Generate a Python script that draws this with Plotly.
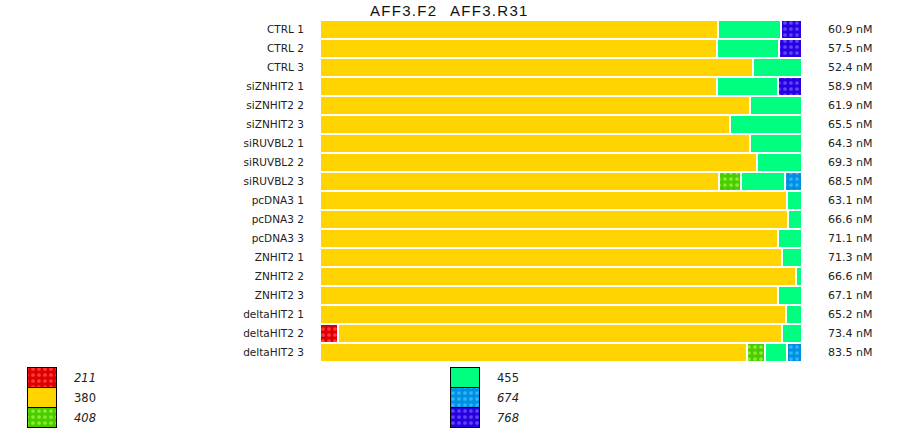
import plotly.graph_objects as go

categories = ["CTRL 1", "CTRL 2", "CTRL 3", "siZNHIT2 1", "siZNHIT2 2", "siZNHIT2 3",
              "siRUVBL2 1", "siRUVBL2 2", "siRUVBL2 3", "pcDNA3 1", "pcDNA3 2", "pcDNA3 3",
              "ZNHIT2 1", "ZNHIT2 2", "ZNHIT2 3", "deltaHIT2 1", "deltaHIT2 2", "deltaHIT2 3"]
concentrations = ["60.9 nM", "57.5 nM", "52.4 nM", "58.9 nM", "61.9 nM", "65.5 nM",
                  "64.3 nM", "69.3 nM", "68.5 nM", "63.1 nM", "66.6 nM", "71.1 nM",
                  "71.3 nM", "66.6 nM", "67.1 nM", "65.2 nM", "73.4 nM", "83.5 nM"]

# percentage of each peak per sample
s211 = [None, None, None, None, None, None, None, None, None, None, None, None,
        None, None, None, None, 3.7, None]
s380 = [82.5, 82.3, 89.8, 82.3, 89.2, 85.0, 89.2, 90.6, 82.8, 96.9, 97.1, 95.0,
        95.8, 98.8, 95.0, 96.7, 92.1, 88.6]
s408 = [None, None, None, None, None, None, None, None, 4.5, None, None, None,
        None, None, None, None, None, 3.8]
s455 = [13.1, 12.9, 10.2, 12.7, 10.8, 15.0, 10.8, 9.4, 9.1, 3.1, 2.9, 5.0,
        4.2, 1.2, 5.0, 3.3, 4.2, 4.5]
s674 = [None, None, None, None, None, None, None, None, 3.5, None, None, None,
        None, None, None, None, None, 3.1]
s768 = [4.4, 4.8, None, 5.0, None, None, None, None, None, None, None, None,
        None, None, None, None, None, None]

series_names = ["211", "380", "408", "455", "674", "768"]
series_values = [s211, s380, s408, s455, s674, s768]
bg_colors = ["#DD0000", "#FFD400", "#4CCC00", "#00FF80", "#0090E0", "#2A00E0"]
fg_colors = ["#FF3A3A", None, "#86F030", None, "#30B4FF", "#5A48FF"]
italic = [True, False, True, False, True, True]

fig = go.Figure()

for name, vals, bg, fg in zip(series_names, series_values, bg_colors, fg_colors):
    marker = dict(color=bg, line=dict(color="white", width=2))
    if fg:
        marker["pattern"] = dict(shape=".", fgcolor=fg, bgcolor=bg, size=6,
                                 solidity=0.3, fillmode="replace")
    fig.add_trace(go.Bar(y=categories, x=vals, orientation="h", name=name,
                         marker=marker, showlegend=False, hoverinfo="x+y+name"))

# custom legend (swatches as bars on an overlay axis in pixel units)
for i, (name, bg, fg, it) in enumerate(zip(series_names, bg_colors, fg_colors, italic)):
    col, row = divmod(i, 3)
    x0 = 28 + col * 423
    y0 = 368 + row * 20
    marker = dict(color=bg, line=dict(color="black", width=1.5))
    if fg:
        marker["pattern"] = dict(shape=".", fgcolor=fg, bgcolor=bg, size=6,
                                 solidity=0.3, fillmode="replace")
    fig.add_trace(go.Bar(x=[x0 + 14.5], y=[19.5], base=[y0], width=[29],
                         marker=marker, xaxis="x2", yaxis="y2",
                         showlegend=False, hoverinfo="skip"))
    label = f"<i>{name}</i>" if it else name
    fig.add_annotation(x=(x0 + 44) / 900, y=1 - (y0 + 10) / 432,
                       xref="paper", yref="paper", text=label, showarrow=False,
                       xanchor="left", yanchor="middle",
                       font=dict(family="DejaVu Sans", size=11.5, color="#222"))

# concentration labels
for cat, conc in zip(categories, concentrations):
    fig.add_annotation(x=100, y=cat, xref="x", yref="y", text=conc, showarrow=False,
                       xanchor="left", xshift=24,
                       font=dict(family="DejaVu Sans", size=11, color="#222"))

# title
fig.add_annotation(x=449.5 / 900, y=1 - 11 / 432, xref="paper", yref="paper",
                   text='<span style="letter-spacing:1.3px">AFF3.F2</span>&nbsp;&nbsp;&nbsp;<span style="letter-spacing:1.3px">AFF3.R31</span>',
                   showarrow=False, xanchor="center", yanchor="middle",
                   font=dict(family="Liberation Sans", size=15, color="#111"))

fig.update_layout(
    width=900, height=432,
    margin=dict(l=0, r=0, t=0, b=0),
    paper_bgcolor="white", plot_bgcolor="rgba(0,0,0,0)",
    barmode="stack", bargap=0,
    xaxis=dict(domain=[320 / 900, 802 / 900], range=[0, 100], visible=False, fixedrange=True),
    yaxis=dict(domain=[(432 - 362) / 432, (432 - 20) / 432], autorange="reversed",
               type="category", showgrid=False, zeroline=False, showline=False,
               ticks="outside", ticklen=13, tickcolor="rgba(0,0,0,0)",
               tickfont=dict(family="DejaVu Sans", size=10.5, color="#222")),
    xaxis2=dict(domain=[0, 1], range=[0, 900], visible=False, anchor="y2", fixedrange=True),
    yaxis2=dict(domain=[0, 1], range=[432, 0], visible=False, anchor="x2", fixedrange=True),
    font=dict(family="DejaVu Sans", color="#222"),
)

fig.write_html("out.html", config={"displayModeBar": False},
               post_script="document.body.style.margin='0';")
